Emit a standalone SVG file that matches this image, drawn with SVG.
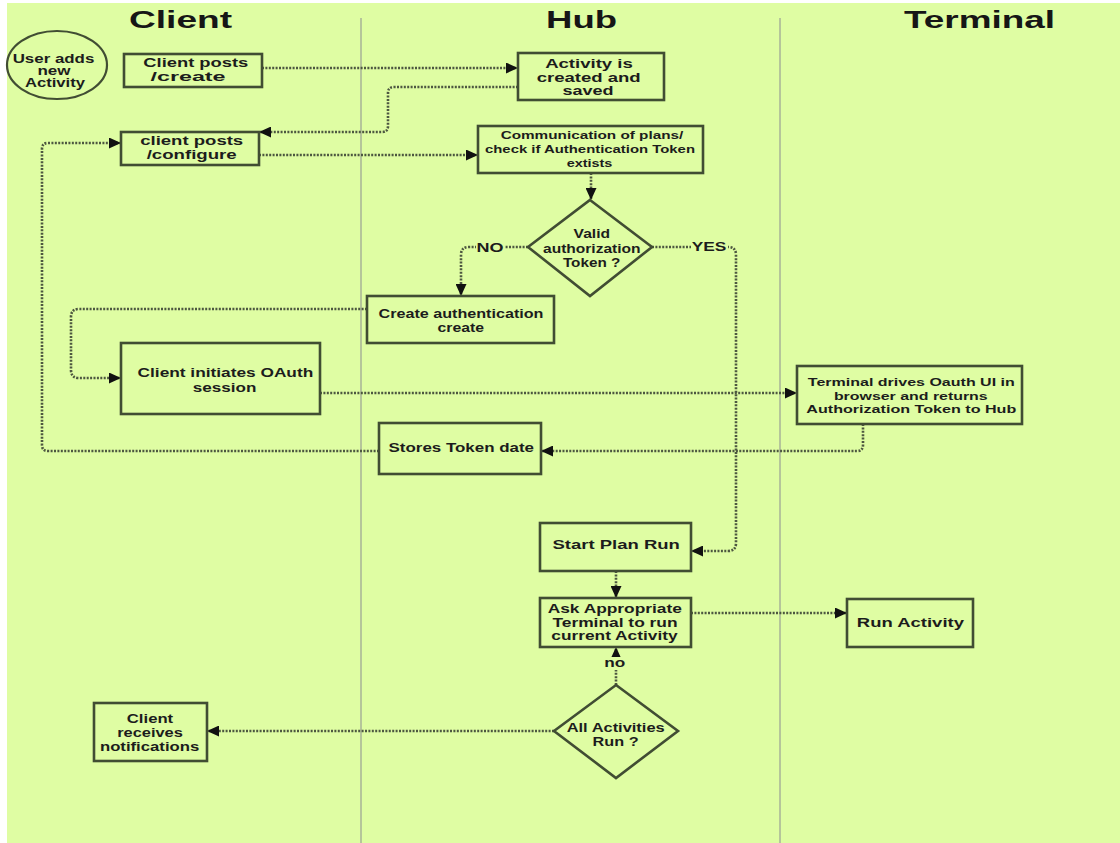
<svg xmlns="http://www.w3.org/2000/svg" width="1120" height="843" viewBox="0 0 1120 843">
<style>
.bg{fill:#dffda3}
.lane{stroke:#b5c59a;stroke-width:2;fill:none}
.box{fill:none;stroke:#414d33;stroke-width:2.6}
.c{fill:none;stroke:#4d5740;stroke-width:2.6;stroke-dasharray:2 1.4}
.t{font-family:"Liberation Sans",Arial,sans-serif;font-weight:bold;font-size:12px;fill:#1c1c1c;text-anchor:middle}
.h{font-size:24px;fill:#161616}
.s11{font-size:11px}
.s13{font-size:12.5px}
.s14{font-size:13.5px}
.lb{fill:#dffda3}
</style>
<defs>
<marker id="ah" viewBox="0 0 12 11" refX="12" refY="5.5" markerWidth="12" markerHeight="11" markerUnits="userSpaceOnUse" orient="auto"><path d="M0,0 L12,5.5 L0,11 z" fill="#111"/></marker>
</defs>
<rect x="0" y="0" width="1120" height="843" fill="#ffffff"/>
<rect class="bg" x="7" y="3" width="1113" height="840"/>
<g id="lanes">
<line class="lane" x1="361" y1="18" x2="361" y2="843"/>
<line class="lane" x1="780" y1="18" x2="780" y2="843"/>
<text class="t h" x="180.5" y="28" textLength="103" lengthAdjust="spacingAndGlyphs">Client</text>
<text class="t h" x="581.5" y="28" textLength="71" lengthAdjust="spacingAndGlyphs">Hub</text>
<text class="t h" x="979.5" y="28" textLength="151" lengthAdjust="spacingAndGlyphs">Terminal</text>
</g>
<g id="connectors">
<path class="c" d="M262,68 H518" marker-end="url(#ah)"/>
<path class="c" d="M518,87 H394 Q388,87 388,93 V126 Q388,132 382,132 H259" marker-end="url(#ah)"/>
<path class="c" d="M259,155 H478" marker-end="url(#ah)"/>
<path class="c" d="M591,173 V200" marker-end="url(#ah)"/>
<path class="c" d="M528,247 H469 Q461,247 461,255 V296" marker-end="url(#ah)"/>
<path class="c" d="M652,247 H728 Q736,247 736,255 V543 Q736,551 728,551 H691" marker-end="url(#ah)"/>
<path class="c" d="M367,309 H79 Q71,309 71,317 V370 Q71,378 79,378 H121" marker-end="url(#ah)"/>
<path class="c" d="M320,393 H797" marker-end="url(#ah)"/>
<path class="c" d="M863,424 V445 Q863,451 857,451 H541" marker-end="url(#ah)"/>
<path class="c" d="M379,451 H48 Q42,451 42,445 V149 Q42,143 48,143 H121" marker-end="url(#ah)"/>
<path class="c" d="M616,571 V598" marker-end="url(#ah)"/>
<path class="c" d="M691,613 H847" marker-end="url(#ah)"/>
<path class="c" d="M616,685 V647" marker-end="url(#ah)"/>
<path class="c" d="M554,731 H207" marker-end="url(#ah)"/>
<rect class="lb" x="476" y="240" width="29" height="14"/>
<text class="t s13" x="490" y="252" textLength="27" lengthAdjust="spacingAndGlyphs">NO</text>
<rect class="lb" x="691" y="240" width="37" height="14"/>
<text class="t s13" x="709" y="251" textLength="34.7" lengthAdjust="spacingAndGlyphs">YES</text>
<rect class="lb" x="603" y="657" width="24" height="13"/>
<text class="t" x="614.7" y="667" textLength="21" lengthAdjust="spacingAndGlyphs">no</text>
</g>
<g id="n-user">
<ellipse cx="57" cy="65" rx="50" ry="34" fill="none" stroke="#414d33" stroke-width="2.2"/>
<text class="t" x="53.5" y="63" textLength="81.6" lengthAdjust="spacingAndGlyphs">User adds</text>
<text class="t" x="54" y="75" textLength="33" lengthAdjust="spacingAndGlyphs">new</text>
<text class="t" x="55" y="87" textLength="60" lengthAdjust="spacingAndGlyphs">Activity</text>
</g>
<g id="n-create">
<rect class="box" x="124" y="54" width="138" height="33"/>
<text class="t" x="195.8" y="67" textLength="105" lengthAdjust="spacingAndGlyphs">Client posts</text>
<text class="t" x="188" y="81" textLength="75" lengthAdjust="spacingAndGlyphs">/create</text>
</g>
<g id="n-configure">
<rect class="box" x="121" y="132" width="138" height="33"/>
<text class="t" x="191.7" y="145" textLength="103" lengthAdjust="spacingAndGlyphs">client posts</text>
<text class="t" x="191.7" y="158.5" textLength="90" lengthAdjust="spacingAndGlyphs">/configure</text>
</g>
<g id="n-activity">
<rect class="box" x="518" y="53" width="146" height="47"/>
<text class="t" x="589" y="68" textLength="87.7" lengthAdjust="spacingAndGlyphs">Activity is</text>
<text class="t" x="588.7" y="81.7" textLength="104" lengthAdjust="spacingAndGlyphs">created and</text>
<text class="t" x="588" y="95" textLength="51" lengthAdjust="spacingAndGlyphs">saved</text>
</g>
<g id="n-communication">
<rect class="box" x="478" y="126" width="225" height="47"/>
<text class="t s11" x="592" y="139.3" textLength="182.7" lengthAdjust="spacingAndGlyphs">Communication of plans/</text>
<text class="t s11" x="590" y="153.3" textLength="210" lengthAdjust="spacingAndGlyphs">check if Authentication Token</text>
<text class="t s11" x="589.5" y="166.7" textLength="45.7" lengthAdjust="spacingAndGlyphs">extists</text>
</g>
<g id="n-valid">
<polygon class="box" points="590,200 652,247 590,296 528,247"/>
<text class="t" x="591.8" y="238.3" textLength="36.4" lengthAdjust="spacingAndGlyphs">Valid</text>
<text class="t" x="591.8" y="252.7" textLength="97.6" lengthAdjust="spacingAndGlyphs">authorization</text>
<text class="t" x="591.6" y="266.7" textLength="57.4" lengthAdjust="spacingAndGlyphs">Token ?</text>
</g>
<g id="n-createauth">
<rect class="box" x="367" y="296" width="187" height="47"/>
<text class="t" x="461" y="318" textLength="165" lengthAdjust="spacingAndGlyphs">Create authentication</text>
<text class="t" x="460.7" y="331.7" textLength="46.4" lengthAdjust="spacingAndGlyphs">create</text>
</g>
<g id="n-oauth">
<rect class="box" x="121" y="343" width="199" height="71"/>
<text class="t" x="225.4" y="377.3" textLength="175.7" lengthAdjust="spacingAndGlyphs">Client initiates OAuth</text>
<text class="t" x="224.6" y="391.7" textLength="63.5" lengthAdjust="spacingAndGlyphs">session</text>
</g>
<g id="n-terminal">
<rect class="box" x="797" y="366" width="225" height="58"/>
<text class="t s11" x="911.3" y="386" textLength="207" lengthAdjust="spacingAndGlyphs">Terminal drives Oauth UI in</text>
<text class="t s11" x="910.8" y="400" textLength="153.8" lengthAdjust="spacingAndGlyphs">browser and returns</text>
<text class="t s11" x="911.3" y="413.3" textLength="210" lengthAdjust="spacingAndGlyphs">Authorization Token to Hub</text>
</g>
<g id="n-stores">
<rect class="box" x="379" y="423" width="162" height="51"/>
<text class="t" x="461.3" y="452" textLength="145.4" lengthAdjust="spacingAndGlyphs">Stores Token date</text>
</g>
<g id="n-start">
<rect class="box" x="540" y="523" width="151" height="48"/>
<text class="t s13" x="616.2" y="549.3" textLength="127.4" lengthAdjust="spacingAndGlyphs">Start Plan Run</text>
</g>
<g id="n-ask">
<rect class="box" x="540" y="598" width="151" height="49"/>
<text class="t" x="614.8" y="613.3" textLength="134.3" lengthAdjust="spacingAndGlyphs">Ask Appropriate</text>
<text class="t" x="615" y="626.7" textLength="125.2" lengthAdjust="spacingAndGlyphs">Terminal to run</text>
<text class="t" x="614.5" y="639.8" textLength="126.3" lengthAdjust="spacingAndGlyphs">current Activity</text>
</g>
<g id="n-run">
<rect class="box" x="847" y="599" width="126" height="48"/>
<text class="t s14" x="910.4" y="627" textLength="107.2" lengthAdjust="spacingAndGlyphs">Run Activity</text>
</g>
<g id="n-all">
<polygon class="box" points="616,685 678,731 616,778 554,731"/>
<text class="t s13" x="615.7" y="731.7" textLength="98" lengthAdjust="spacingAndGlyphs">All Activities</text>
<text class="t s13" x="615.6" y="745.5" textLength="46" lengthAdjust="spacingAndGlyphs">Run ?</text>
</g>
<g id="n-notify">
<rect class="box" x="94" y="703" width="113" height="58"/>
<text class="t s13" x="150" y="723.3" textLength="46.4" lengthAdjust="spacingAndGlyphs">Client</text>
<text class="t s13" x="150" y="736.9" textLength="65.7" lengthAdjust="spacingAndGlyphs">receives</text>
<text class="t s13" x="149.6" y="750.7" textLength="99.3" lengthAdjust="spacingAndGlyphs">notifications</text>
</g>
</svg>
